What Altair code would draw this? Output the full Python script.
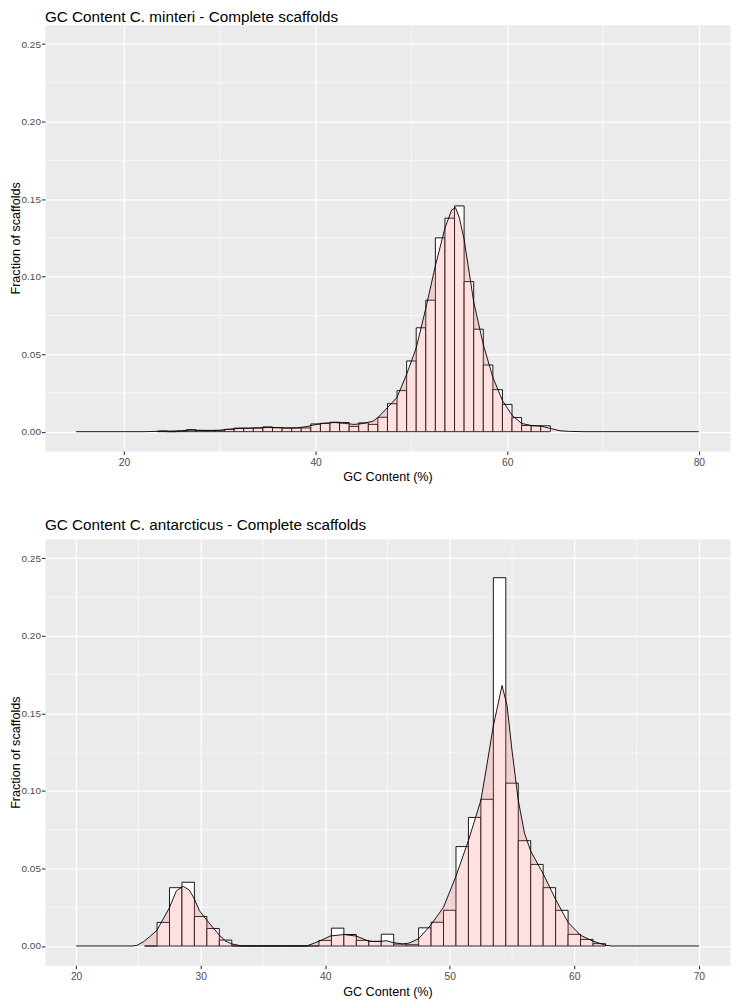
import altair as alt
import pandas as pd

FONT = "Liberation Sans"

# ---------------- C. minteri ----------------
min_bins = list(range(24, 65))
min_frac = [0.0004, 0.0, 0.0004, 0.0013, 0.0007, 0.0007, 0.0006, 0.0015, 0.0023, 0.0022,
            0.0023, 0.0031, 0.0026, 0.0023, 0.0023, 0.0024, 0.0050, 0.0054, 0.0061, 0.0059,
            0.0034, 0.0057, 0.0047, 0.0093, 0.0180, 0.0265, 0.0456, 0.0670, 0.0848, 0.1250,
            0.1377, 0.1456, 0.0968, 0.0661, 0.0430, 0.0271, 0.0176, 0.0091, 0.0040, 0.0038, 0.0038]

min_dens_x = [15, 22, 23.5, 24, 25, 26, 27, 28, 29, 30, 31, 32, 33, 34, 35, 36, 37, 38, 39, 40,
              41, 42, 43, 44, 45, 46, 46.5, 47.5, 48.5, 49.5, 50.5, 51.5, 52.5, 53.5, 54.2, 54.6,
              55.0, 55.5, 56.5, 57.5, 58.5, 59.5, 60.5, 61.5, 62.5, 63.5, 64.5, 65.5, 66.5, 68, 80]
min_dens_y = [0, 0, 0.0002, 0.0004, 0.0004, 0.0006, 0.0010, 0.0009, 0.0008, 0.0010, 0.0016,
              0.0021, 0.0023, 0.0025, 0.0027, 0.0026, 0.0024, 0.0025, 0.0032, 0.0046, 0.0055,
              0.0059, 0.0054, 0.0047, 0.0053, 0.0068, 0.0091, 0.0155, 0.0222, 0.0370, 0.0540,
              0.0795, 0.1070, 0.1314, 0.1430, 0.1445, 0.1380, 0.1240, 0.0837, 0.0562, 0.0350,
              0.0201, 0.0106, 0.0053, 0.0040, 0.0036, 0.0021, 0.0006, 0.0002, 0, 0]

# ---------------- C. antarcticus ----------------
ant_bins = list(range(26, 63))
ant_frac = [0.0, 0.0152, 0.0376, 0.0411, 0.0190, 0.0113, 0.0038, 0.0, 0.0, 0.0,
            0.0, 0.0, 0.0, 0.0, 0.0036, 0.0115, 0.0074, 0.0036, 0.0030, 0.0076,
            0.0012, 0.0008, 0.0117, 0.0153, 0.0230, 0.0641, 0.0829, 0.0946, 0.2375, 0.1050,
            0.0679, 0.0526, 0.0376, 0.0230, 0.0075, 0.0042, 0.0015]

ant_dens_x = [20, 24.5, 24.9, 25.4, 25.9, 26.5, 27.0, 27.5, 28.05, 28.6, 29.1, 29.5, 29.9, 30.5,
              30.95, 31.5, 32.0, 32.5, 33.3, 38.5, 39.5, 40.4, 41.5, 42.5, 43.45, 44.0, 44.5, 44.9,
              45.45, 46.2, 46.75, 47.5, 48.45, 49.5, 50.5, 51.5, 52.5, 53.0, 53.5, 54.2, 54.6,
              55.0, 55.5, 56.0, 56.5, 57.5, 58.5, 59.5, 60.5, 61.5, 62.5, 63.0, 70]
ant_dens_y = [0, 0, 0.0004, 0.0027, 0.0059, 0.0102, 0.0175, 0.0248, 0.0355, 0.0385, 0.0360,
              0.0303, 0.0228, 0.0165, 0.0123, 0.0070, 0.0032, 0.0013, 0, 0, 0.0030, 0.0064,
              0.0074, 0.0064, 0.0032, 0.0028, 0.0030, 0.0034, 0.0022, 0.0013, 0.0019, 0.0047,
              0.0132, 0.0250, 0.0450, 0.0680, 0.0940, 0.1176, 0.1420, 0.1680, 0.1550, 0.1260,
              0.0940, 0.0727, 0.0612, 0.0466, 0.0300, 0.0152, 0.0069, 0.0031, 0.0005, 0, 0]

y_ticks = [0.0, 0.05, 0.10, 0.15, 0.20, 0.25]
y_minor = [0.025, 0.075, 0.125, 0.175, 0.225]

W, H = 686, 427


def panel(title, title_offset, bins, frac, dx, dy, xdom, xticks, xminor):
    hist = pd.DataFrame({"gc": bins, "frac": frac})
    dens = pd.DataFrame({"gc": dx, "dens": dy})
    xs = alt.Scale(domain=xdom, nice=False, zero=False)
    ys = alt.Scale(domain=[-0.0125, 0.2625], nice=False, zero=False)
    xa = alt.Axis(values=xticks, title="GC Content (%)", format="d", titlePadding=3,
                  labelPadding=3)
    ya = alt.Axis(values=y_ticks, title="Fraction of scaffolds", format=".2f",
                  labelPadding=1.0, labelFontSize=10.0, titleX=-22.6, titleY=H / 2)

    mx = alt.Chart(pd.DataFrame({"v": xminor})).mark_rule(
        color="white", strokeWidth=0.6).encode(x=alt.X("v:Q", scale=xs, axis=xa))
    my = alt.Chart(pd.DataFrame({"v": y_minor})).mark_rule(
        color="white", strokeWidth=0.6).encode(y=alt.Y("v:Q", scale=ys, axis=ya))

    bars = alt.Chart(hist).transform_calculate(
        x0="datum.gc - 0.5", x1="datum.gc + 0.5", zero="0"
    ).mark_rect(fill="white", stroke="black", strokeWidth=0.9).encode(
        x=alt.X("x0:Q", scale=xs, axis=xa),
        x2="x1:Q",
        y=alt.Y("frac:Q", scale=ys, axis=ya),
        y2="zero:Q",
    )
    area = alt.Chart(dens).transform_calculate(zero="0").mark_area(
        color="#FF6666", opacity=0.2
    ).encode(
        x=alt.X("gc:Q", scale=xs, axis=xa),
        y=alt.Y("dens:Q", scale=ys, axis=ya),
        y2="zero:Q",
    )
    line = alt.Chart(dens).mark_line(color="black", strokeWidth=0.9).encode(
        x=alt.X("gc:Q", scale=xs, axis=xa),
        y=alt.Y("dens:Q", scale=ys, axis=ya),
    )
    return alt.layer(mx, my, bars, area, line).properties(
        width=W, height=H,
        title=alt.TitleParams(text=title, anchor="start", frame="group", offset=title_offset),
    )


top = panel("GC Content C. minteri - Complete scaffolds", -1, min_bins, min_frac,
            min_dens_x, min_dens_y, [11.75, 83.25], [20, 40, 60, 80], [30, 50, 70])
bottom = panel("GC Content C. antarcticus - Complete scaffolds", 5, ant_bins, ant_frac,
               ant_dens_x, ant_dens_y, [17.5, 72.5], [20, 30, 40, 50, 60, 70],
               [25, 35, 45, 55, 65])

chart = alt.vconcat(top, bottom, spacing=33).properties(
    padding={"left": 0, "top": 0, "right": 0, "bottom": 0}
).configure_view(
    fill="#EBEBEB", stroke="transparent"
).configure_axis(
    domain=False, gridColor="white", gridWidth=1.2, tickColor="#333333", tickSize=3.5,
    tickWidth=1.1, labelColor="#4D4D4D", labelFont=FONT, labelFontSize=10.3,
    titleFont=FONT, titleFontSize=12.6, titleColor="black", titleFontWeight="normal"
).configure_title(
    font=FONT, fontSize=15.3, fontWeight="normal", color="black"
)

chart.save("out.html", embed_options={"renderer": "svg", "actions": False})
